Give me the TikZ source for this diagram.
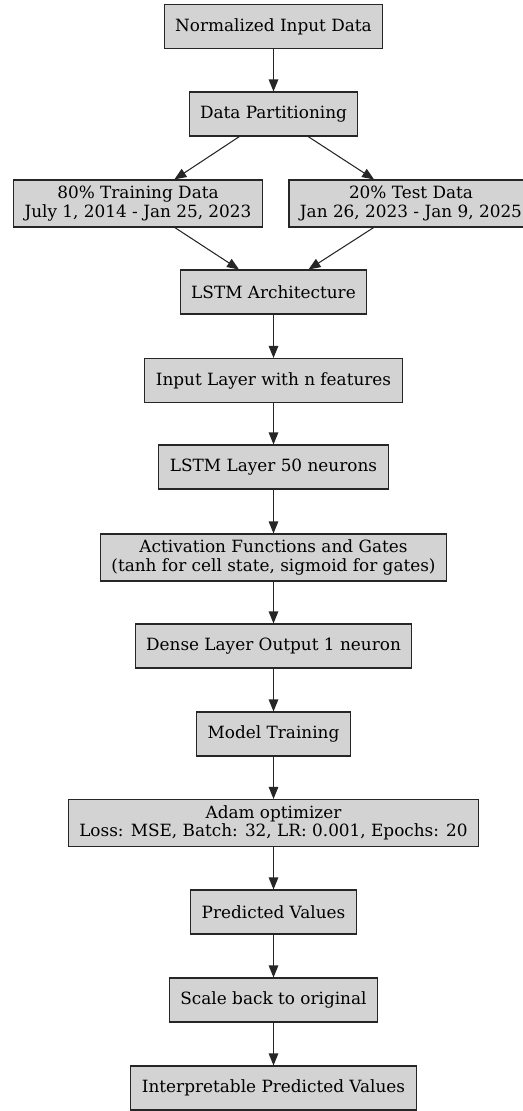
\documentclass[tikz,border=0pt]{standalone}
\usepackage{fontspec}
\setmainfont{DejaVu Serif}
\usetikzlibrary{arrows.meta}

\begin{document}
\begin{tikzpicture}[%%
  boxStyle/.style={draw=black!85,line width=0.6pt,fill=boxGray,rectangle,align=center,%%
    inner xsep=0.22cm,inner ysep=0.1cm,minimum height=0.88cm,font=\fontsize{9.6}{10.6}\selectfont},%%
  edgeStyle/.style={-{Triangle[length=0.24cm,width=0.19cm]},line width=0.6pt,draw=black!85}%%
]
\definecolor{boxGray}{HTML}{D3D3D3}
%%
%%
\pgfmathsetmacro{\xmid}{5.47}
\pgfmathsetmacro{\xleft}{2.76}
\pgfmathsetmacro{\xright}{8.22}
%% The page.
\useasboundingbox (0,0) rectangle (10.46,-22.22);
%% The data split.
\node[boxStyle] (norm) at (\xmid,-0.53) {Normalized Input Data};
\node[boxStyle] (part) at (\xmid,-2.28) {Data Partitioning};
\node[boxStyle,minimum height=0.94cm] (train) at (\xleft,-4.07) {80\% Training Data\\July 1, 2014 - Jan 25, 2023};
\node[boxStyle,minimum height=0.94cm] (test) at (\xright,-4.07) {20\% Test Data\\Jan 26, 2023 - Jan 9, 2025};
%% The network.
\node[boxStyle] (arch) at (\xmid,-5.84) {LSTM Architecture};
\node[boxStyle] (inlayer) at (\xmid,-7.61) {Input Layer with n features};
\node[boxStyle] (lstm) at (\xmid,-9.34) {LSTM Layer 50 neurons};
\node[boxStyle,minimum height=0.94cm] (act) at (\xmid,-11.15) {Activation Functions and Gates\\(tanh for cell state, sigmoid for gates)};
\node[boxStyle] (dense) at (\xmid,-12.92) {Dense Layer Output 1 neuron};
%% Training and output.
\node[boxStyle] (fit) at (\xmid,-14.68) {Model Training};
\node[boxStyle,minimum height=0.94cm] (adam) at (\xmid,-16.46) {Adam optimizer\\Loss: MSE, Batch: 32, LR: 0.001, Epochs: 20};
\node[boxStyle] (pred) at (\xmid,-18.24) {Predicted Values};
\node[boxStyle] (rescale) at (\xmid,-20.0) {Scale back to original};
\node[boxStyle] (interp) at (\xmid,-21.76) {Interpretable Predicted Values};
%%
%%
%% The arrows.
\draw[edgeStyle] (norm) -- (part);
\draw[edgeStyle] (part) -- (train);
\draw[edgeStyle] (part) -- (test);
\draw[edgeStyle] (train) -- (arch);
\draw[edgeStyle] (test) -- (arch);
\foreach \from/\to in {arch/inlayer,inlayer/lstm,lstm/act,act/dense,dense/fit,fit/adam,adam/pred,pred/rescale,rescale/interp}
  \draw[edgeStyle] (\from) -- (\to);
\end{tikzpicture}
\end{document}
